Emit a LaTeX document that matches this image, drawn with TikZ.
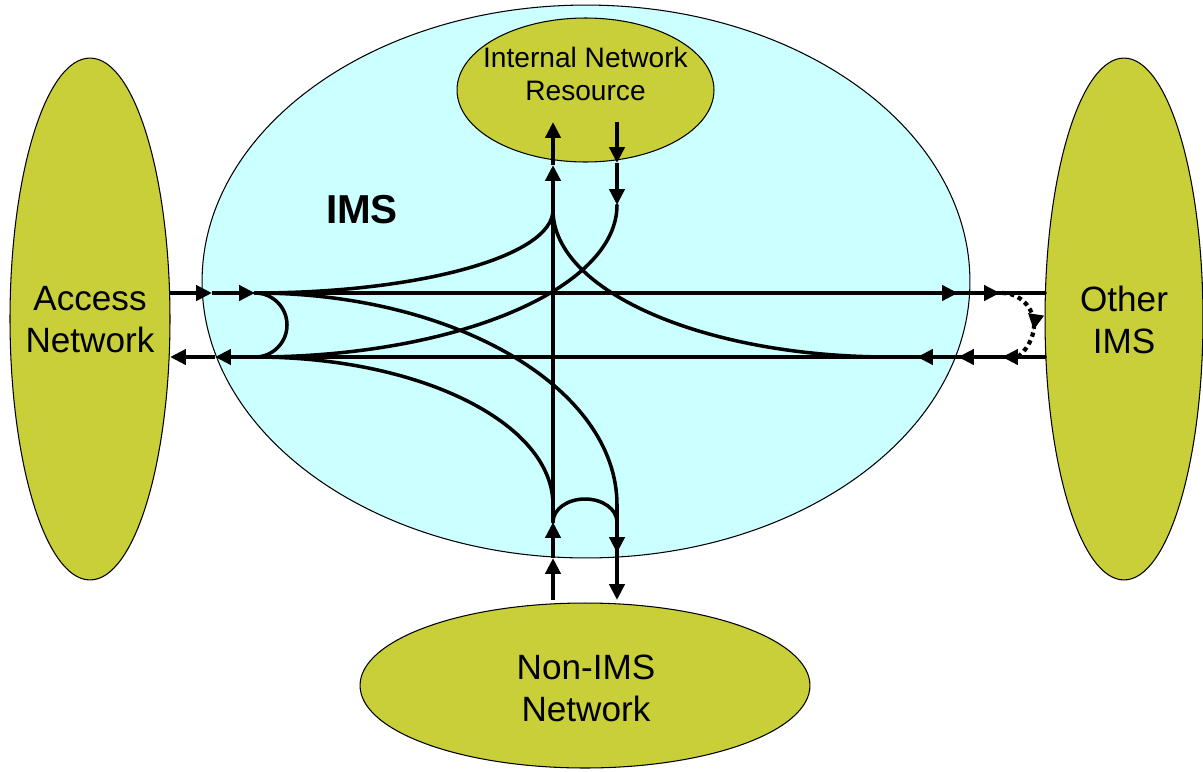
\documentclass[tikz,border=0pt]{standalone}
\usepackage{fontspec}
\setmainfont{Liberation Sans}
\usetikzlibrary{shapes.geometric,arrows.meta,decorations.markings}
\definecolor{olive}{RGB}{200,207,56}
\definecolor{imscyan}{RGB}{204,255,255}
\begin{document}
\begin{tikzpicture}[x=0.02cm,y=-0.02cm,
  blob/.style={ellipse,draw=black,line width=0.6pt,fill=olive,inner sep=0pt},
  bigtxt/.style={align=center,inner sep=0pt,font=\fontsize{20}{24}\selectfont},
  smalltxt/.style={align=center,inner sep=0pt,font=\fontsize{16}{19}\selectfont},
  route/.style={line width=2pt,line cap=round},
  arr/.style={line width=2.5pt,-{Triangle[length=9pt,width=8.5pt]}},
  loopdot/.style={line width=2.4pt,dash pattern=on 2.5pt off 2.2pt,
    -{Triangle[length=9pt,width=8.5pt]},
    postaction={decorate,decoration={markings,mark=at position 0.55 with {\arrow{Triangle[length=9pt,width=8.5pt]}}}}}
]
\useasboundingbox (0,0) rectangle (1203,771);
% ellipses
\node[ellipse,draw=black,line width=0.6pt,fill=imscyan,minimum width=15.36cm,minimum height=11.06cm] (IMS) at (586,281.5) {};
\node[blob,minimum width=3.2cm,minimum height=10.44cm] (AN) at (90,319) {};
\node[blob,minimum width=3.16cm,minimum height=10.44cm] (OI) at (1124,319) {};
\node[blob,minimum width=9cm,minimum height=3.3cm] (NIN) at (585,685.5) {};
\node[blob,minimum width=5.14cm,minimum height=2.88cm] (INR) at (585.5,90) {};
% labels
\node[bigtxt] (ANt) at (90,319.5) {Access\\Network};
\node[bigtxt] (OIt) at (1124,320) {Other\\IMS};
\node[bigtxt] (NINt) at (586,688) {Non-IMS\\Network};
\node[smalltxt] (INRt) at (585.5,74) {Internal Network\\Resource};
\node[inner sep=0pt,font=\fontsize{23}{27}\selectfont\bfseries] (IMSt) at (362,210) {IMS};
% junction coordinates
\coordinate (a0) at (170,293);
\coordinate (a1) at (212,293);
\coordinate (a2) at (255,293);
\coordinate (a3) at (915,293);
\coordinate (a4) at (958,293);
\coordinate (a5) at (1000,293);
\coordinate (a6) at (1045,293);
\coordinate (b0) at (170,357);
\coordinate (b1) at (215,357);
\coordinate (b2) at (255,357);
\coordinate (b3) at (917,357);
\coordinate (b4) at (958,357);
\coordinate (b5) at (1002,357);
\coordinate (b6) at (1045,357);
\coordinate (v0) at (553,600);
\coordinate (v1) at (553,558);
\coordinate (v2) at (553,522);
\coordinate (v3) at (553,210);
\coordinate (v4) at (553,165);
\coordinate (v5) at (553,122);
\coordinate (w0) at (617,122);
\coordinate (w1) at (617,163);
\coordinate (w2) at (617,205);
\coordinate (w3) at (617,505);
\coordinate (w4) at (617,553);
\coordinate (w5) at (617,600);
\coordinate (vb) at (553,505);
\coordinate (e1) at (890,357);
\coordinate (dtop) at (1002,293);
% long routes
\draw[route] (a2) -- (a6);
\draw[route] (b6) -- (b2);
\draw[route] (v2) -- (v3);
\draw[route] (w3) -- (w4);
% curves
\draw[route] (a2) .. controls (455,293) and (617,388) .. (w3);
\draw[route] (b2) .. controls (420,357) and (553,423) .. (vb);
\draw[route] (w2) .. controls (617,289) and (455,357) .. (b2);
\draw[route] (a2) .. controls (420,293) and (553,256) .. (v3);
\draw[route] (v3) .. controls (553,291) and (704,357) .. (e1);
% loops
\draw[route] (a2) arc[start angle=-90,end angle=90,radius=32];
\draw[route] (v2) arc[start angle=180,end angle=360,x radius=32,y radius=23];
\draw[loopdot] (dtop) arc[start angle=-90,end angle=90,radius=32];
% arrowed segments
\draw[arr] (a0) -- (a1);
\draw[arr] (a1) -- (a2);
\draw[arr] (a3) -- (a4);
\draw[arr] (a4) -- (a5);
\draw[arr] (b5) -- (b4);
\draw[arr] (b4) -- (b3);
\draw[arr] (b2) -- (b1);
\draw[arr] (b1) -- (b0);
\draw[arr] (v0) -- (v1);
\draw[arr] (v1) -- (v2);
\draw[arr] (v3) -- (v4);
\draw[arr] (v4) -- (v5);
\draw[arr] (w0) -- (w1);
\draw[arr] (w1) -- (w2);
\draw[arr] (w3) -- (w4);
\draw[arr] (w4) -- (w5);
\end{tikzpicture}
\end{document}
